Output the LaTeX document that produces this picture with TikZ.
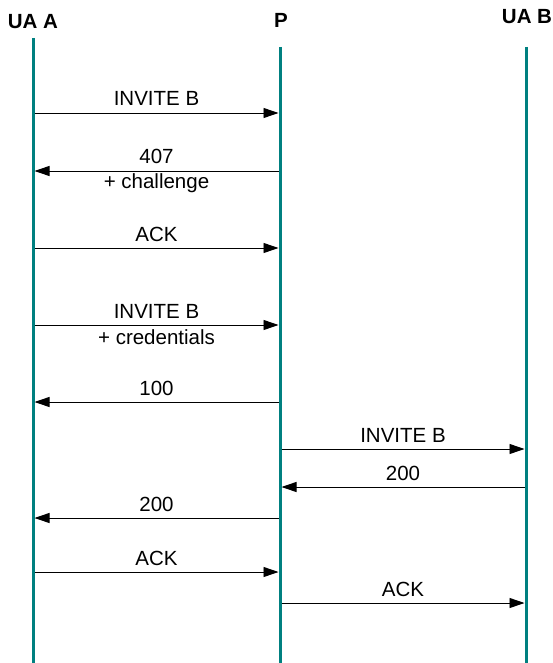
\documentclass[tikz,border=0pt]{standalone}
\usepackage{fontspec}
\setmainfont{Liberation Sans}
\usetikzlibrary{arrows.meta}
\definecolor{life}{HTML}{008080}
\begin{document}
\begin{tikzpicture}[x=1pt,y=-1pt,
  lifeline/.style={draw=life,line width=3pt},
  msg/.style={draw=black,line width=0.9pt,-{Triangle[length=15pt,width=10pt]},shorten >=1.5pt,shorten <=1.5pt},
  lbl/.style={anchor=base,inner sep=0pt,font=\fontsize{20.5}{24}\selectfont},
  head/.style={anchor=center,inner sep=0pt,font=\fontsize{20.5}{24}\selectfont\bfseries}]
\useasboundingbox (0,0) rectangle (552,663);
% headers
\node[head] (hA) at (33,22) {UA A};
\node[head] (hP) at (281,20) {P};
\node[head] (hB) at (527,17) {UA B};
% lifelines
\coordinate (At) at (33,38);  \coordinate (Ab) at (33,663);
\coordinate (Pt) at (280,47); \coordinate (Pb) at (280,663);
\coordinate (Bt) at (526,47); \coordinate (Bb) at (526,663);
\draw[lifeline] (At) -- (Ab);
\draw[lifeline] (Pt) -- (Pb);
\draw[lifeline] (Bt) -- (Bb);
% message coordinates
\foreach \i/\y in {1/113,2/171,3/248,4/325,5/402,6/449,7/487,8/518,9/572,10/603}{
  \coordinate (a\i) at (33,\y);
  \coordinate (p\i) at (280,\y);
  \coordinate (b\i) at (526,\y);
}
% messages
\draw[msg] (a1) -- (p1);
\node[lbl] (m1) at (156.5,106) {INVITE B};
\draw[msg] (p2) -- (a2);
\node[lbl] (m2) at (156.5,164) {407};
\node[lbl] (m2b) at (156.5,189) {+ challenge};
\draw[msg] (a3) -- (p3);
\node[lbl] (m3) at (156.5,241) {ACK};
\draw[msg] (a4) -- (p4);
\node[lbl] (m4) at (156.5,318) {INVITE B};
\node[lbl] (m4b) at (156.5,344) {+ credentials};
\draw[msg] (p5) -- (a5);
\node[lbl] (m5) at (156.5,395) {100};
\draw[msg] (p6) -- (b6);
\node[lbl] (m6) at (403,442) {INVITE B};
\draw[msg] (b7) -- (p7);
\node[lbl] (m7) at (403,480) {200};
\draw[msg] (p8) -- (a8);
\node[lbl] (m8) at (156.5,511) {200};
\draw[msg] (a9) -- (p9);
\node[lbl] (m9) at (156.5,565) {ACK};
\draw[msg] (p10) -- (b10);
\node[lbl] (m10) at (403,596) {ACK};
\end{tikzpicture}
\end{document}
